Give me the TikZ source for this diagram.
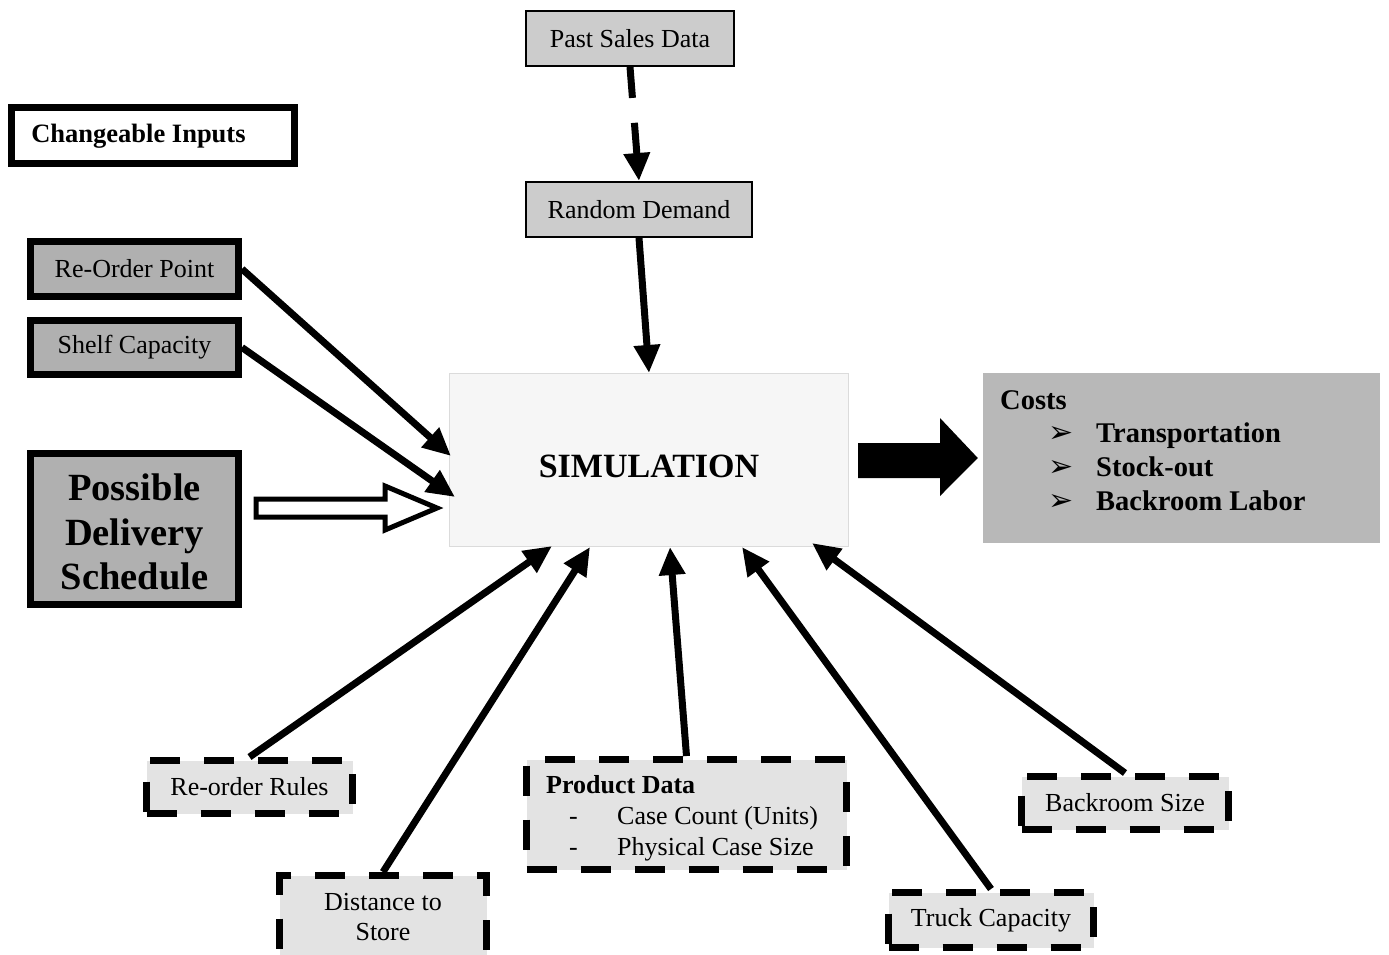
\documentclass[tikz,border=0pt]{standalone}
\usepackage{fontspec}
\setmainfont{Liberation Serif}
\newfontfamily\dejavu{DejaVu Sans}
\usetikzlibrary{arrows.meta,calc}
\definecolor{lightfill}{gray}{0.80}
\definecolor{darkfill}{gray}{0.69}
\definecolor{costfill}{gray}{0.72}
\definecolor{dashfill}{gray}{0.89}
\definecolor{simfill}{gray}{0.965}
\definecolor{simline}{gray}{0.86}
\tikzset{
  txt/.style={font=\fontsize{26}{30}\selectfont},
  thinbox/.style={draw, line width=2pt, fill=lightfill, inner sep=0pt, txt},
  heavybox/.style={draw, line width=7pt, fill=darkfill, inner sep=0pt, txt},
  dashbox/.style={draw, line width=7pt, dash pattern=on 30pt off 24pt, fill=dashfill, inner sep=0pt, txt},
  link/.style={line width=7pt, -{Triangle[length=28pt,width=25pt]}},
  costtxt/.style={font=\fontsize{28.5}{34}\selectfont\bfseries, inner sep=0pt, anchor=base west},
  bul/.style={font=\dejavu\fontsize{30}{34}\selectfont, inner sep=0pt, anchor=base west},
  pdtxt/.style={txt, inner sep=0pt, anchor=base west}
}
\begin{document}
\begin{tikzpicture}[x=1pt,y=-1pt]
\clip (0,0) rectangle (1389,954);
\fill[white] (0,0) rectangle (1389,954);

% nodes
\node[draw, line width=7pt, fill=white, minimum width=283pt, minimum height=56pt, inner sep=0pt] (ci) at (153,135.5) {};
\node[font=\fontsize{26.5}{30}\selectfont\bfseries, inner sep=0pt] (cit) at (138.5,136) {Changeable Inputs};
\node[thinbox, minimum width=208pt, minimum height=55pt] (psd) at (630,38.5) {Past Sales Data};
\node[thinbox, minimum width=226pt, minimum height=55pt] (rd) at (639,209.5) {Random Demand};
\node[heavybox, minimum width=208pt, minimum height=55pt] (rop) at (134.5,269) {Re-Order Point};
\node[heavybox, minimum width=208pt, minimum height=54pt] (sc) at (134.5,347.5) {Shelf Capacity};
\node[heavybox, minimum width=208pt, minimum height=151pt] (pds) at (134.5,529) {};
\node[align=center, inner sep=0pt, font=\fontsize{38.5}{44.5}\selectfont\bfseries] (pdst) at (134.5,532) {Possible\\Delivery\\Schedule};
\node[draw=simline, line width=1pt, fill=simfill, minimum width=399pt, minimum height=173pt] (sim) at (649,460) {};
\node[font=\fontsize{34}{40}\selectfont\bfseries, inner sep=0pt] (simt) at (649,466) {SIMULATION};
\node[fill=costfill, minimum width=397pt, minimum height=170pt, inner sep=0pt] (costs) at (1181.5,458) {};
\node[costtxt] (ct) at (1000,409) {Costs};
\node[bul] (b1) at (1048,442) {➢};
\node[bul] (b2) at (1048,476) {➢};
\node[bul] (b3) at (1048,510) {➢};
\node[costtxt] (c1) at (1096,442) {Transportation};
\node[costtxt] (c2) at (1096,476) {Stock-out};
\node[costtxt] (c3) at (1096,510) {Backroom Labor};

\node[dashbox, minimum width=206pt, minimum height=53pt] (rr) at (249.5,787) {Re-order Rules};
\node[dashbox, minimum width=207pt, minimum height=83pt, align=center] (dts) at (383,917) {Distance to\\Store};
\node[dashbox, minimum width=320pt, minimum height=110pt] (pd) at (686.5,814.5) {};
\node[pdtxt, font=\fontsize{26}{30}\selectfont\bfseries] (pd0) at (546,793) {Product Data};
\node[pdtxt] (pdd1) at (569,824) {-};
\node[pdtxt] (pd1) at (617,824) {Case Count (Units)};
\node[pdtxt] (pdd2) at (569,855) {-};
\node[pdtxt] (pd2) at (617,855) {Physical Case Size};
\node[dashbox, minimum width=205pt, minimum height=55pt] (tc) at (991,920) {Truck Capacity};
\node[dashbox, minimum width=207pt, minimum height=53pt] (bs) at (1125,803) {Backroom Size};

% connectors
\draw[link, dash pattern=on 31pt off 25pt] (psd.south) -- (rd.north);
\draw[link] (rd.south) -- (sim.north);
\draw[link] (rop.east) -- ($(sim.west)+(2,-4)$);
\draw[link] (sc.east) -- ($(sim.west)+(6,37)$);
\draw[link] (rr.north) -- ($(sim.south)+(-97,-1)$);
\draw[link] (dts.north) -- ($(sim.south)+(-59,0)$);
\draw[link] (pd.north) -- ($(sim.south)+(21,0)$);
\draw[link] (tc.north) -- ($(sim.south)+(93,0)$);
\draw[link] (bs.north) -- ($(sim.south)+(163,-4)$);

% hollow arrow
\coordinate (h0) at ($(pds.east)+(14,-21)$);
\coordinate (h1) at ($(sim.west)+(-12,48)$);
\draw[line width=5pt, fill=white, line join=miter]
  ($(h0)+(0,-9)$) -- ++(129,0) -- ++(0,-13) -- (h1) -- ($(h0)+(129,22)$) -- ++(0,-13) -- ($(h0)+(0,9)$) -- cycle;

% big black arrow
\coordinate (k0) at ($(sim.east)+(9,0)$);
\coordinate (k1) at ($(costs.west)+(-5,0)$);
\fill ($(k0)+(0,-17)$) -- ++(82,0) -- ++(0,-25) -- (k1) -- ($(k0)+(82,36)$) -- ++(0,-18) -- ($(k0)+(0,18)$) -- cycle;
\end{tikzpicture}
\end{document}
